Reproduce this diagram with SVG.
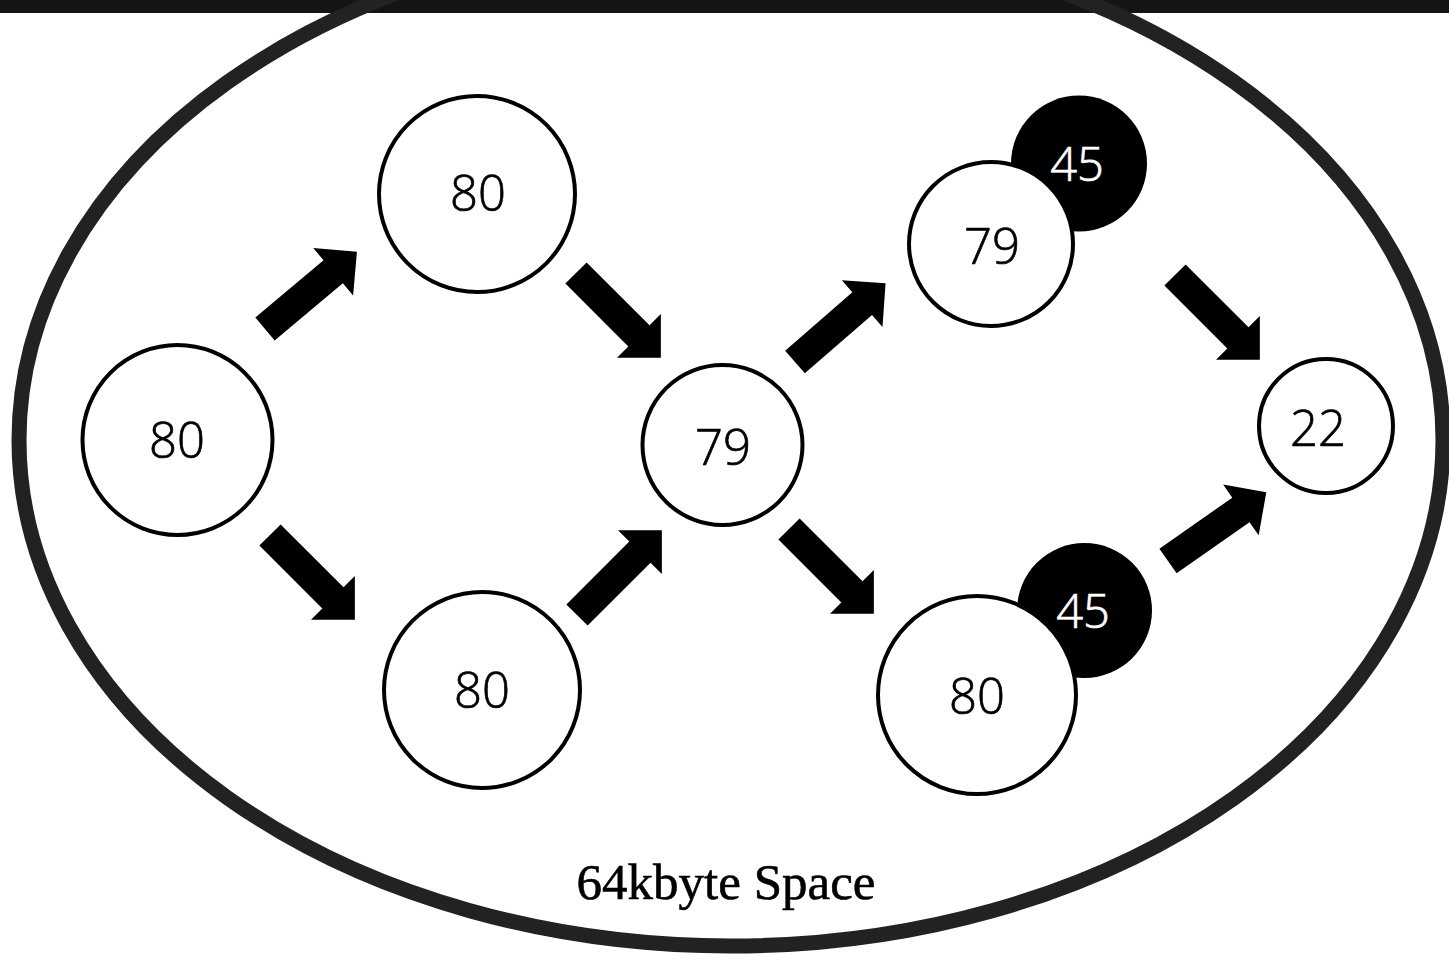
<svg xmlns="http://www.w3.org/2000/svg" xmlns:xlink="http://www.w3.org/1999/xlink" width="1449" height="966" viewBox="0 0 1449 966">
  <style>
    .node { fill: #fff; stroke: #000; stroke-width: 4; }
    .blk { fill: #000; stroke: none; }
    .lbl { font-family: "Open Sans", "Noto Sans", sans-serif; font-size: 49px; font-weight: 300; fill: #000; stroke: #000; stroke-width: 0.7; text-anchor: middle; }
    .lblw { font-family: "Open Sans", "Noto Sans", sans-serif; font-size: 47px; font-weight: 300; fill: #fff; stroke: #fff; stroke-width: 0.7; text-anchor: middle; }
    .title { font-family: "Liberation Serif", "DejaVu Serif", serif; font-size: 51px; fill: #000; stroke: #000; stroke-width: 0.6; text-anchor: middle; }
    .arrow { fill: #000; }
  </style>
  <defs>
    <path id="arrow" d="M0,-15 L89,-15 L89,-31 L120,0 L89,31 L89,15 L0,15 Z"/>
  </defs>
  <rect x="0" y="0" width="1449" height="966" fill="#fff"/>
  <rect x="0" y="0" width="1449" height="13" fill="#141414"/>
  <g id="space">
    <ellipse cx="731" cy="440" rx="712" ry="506" fill="none" stroke="#222" stroke-width="15"/>
    <text class="title" x="726" y="899">64kbyte Space</text>
  </g>
  <g id="connectors" class="arrow">
    <use xlink:href="#arrow" transform="translate(265,329) rotate(-40)"/>
    <use xlink:href="#arrow" transform="translate(576,273) rotate(45)"/>
    <use xlink:href="#arrow" transform="translate(270,535) rotate(45)"/>
    <use xlink:href="#arrow" transform="translate(577,615) rotate(-45)"/>
    <use xlink:href="#arrow" transform="translate(795,362) rotate(-41)"/>
    <use xlink:href="#arrow" transform="translate(789,529) rotate(45)"/>
    <use xlink:href="#arrow" transform="translate(1175,275) rotate(45)"/>
    <use xlink:href="#arrow" transform="translate(1168,561) rotate(-35)"/>
  </g>
  <g id="n1">
    <circle class="node" cx="177.5" cy="440" r="95"/>
    <text class="lbl" x="177" y="458">80</text>
  </g>
  <g id="n2">
    <circle class="node" cx="477" cy="194" r="98"/>
    <text class="lbl" x="478" y="211">80</text>
  </g>
  <g id="n3">
    <circle class="node" cx="482" cy="690" r="98"/>
    <text class="lbl" x="482" y="708">80</text>
  </g>
  <g id="n4">
    <circle class="node" cx="722.5" cy="445" r="80"/>
    <text class="lbl" x="723" y="465">79</text>
  </g>
  <g id="n5b">
    <circle class="blk" cx="1079" cy="163.5" r="68"/>
    <text class="lblw" x="1077" y="181">45</text>
  </g>
  <g id="n5">
    <circle class="node" cx="991" cy="244" r="82"/>
    <text class="lbl" x="992" y="264">79</text>
  </g>
  <g id="n6b">
    <circle class="blk" cx="1084.5" cy="610.5" r="67.5"/>
    <text class="lblw" x="1083" y="628">45</text>
  </g>
  <g id="n6">
    <circle class="node" cx="977" cy="695" r="99"/>
    <text class="lbl" x="977" y="714">80</text>
  </g>
  <g id="n7">
    <circle class="node" cx="1326" cy="426" r="67"/>
    <text class="lbl" x="1318" y="446">22</text>
  </g>
</svg>
